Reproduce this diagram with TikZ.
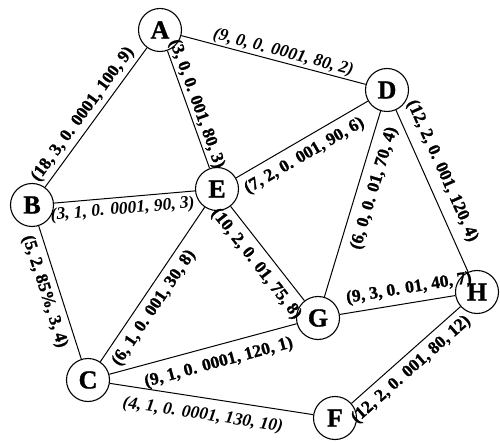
\documentclass[tikz,border=0pt]{standalone}
\usepackage{fontspec}
\setmainfont{Liberation Serif}[BoldFeatures={FakeBold=1.2}]
\begin{document}
\begin{tikzpicture}[x=1pt,y=1pt,
  vtx/.style={circle,draw,line width=1.1pt,minimum size=43pt,inner sep=0pt,fill=white,font=\fontsize{26}{26}\selectfont\bfseries},
  lab/.style={sloped,font=\fontsize{17.5}{17.5}\selectfont\bfseries,inner xsep=1pt},
  up/.style={lab,anchor=south,inner ysep=#1},
  dn/.style={lab,anchor=north,inner ysep=#1},
  it/.style={font=\fontsize{17.5}{17.5}\selectfont\bfseries\itshape},
  edge/.style={line width=1pt}]
\useasboundingbox (0,0) rectangle (500,-443);
\node[vtx] (A) at (160,-30) {A};
\node[vtx] (D) at (387,-90) {D};
\node[vtx] (B) at (32,-205) {B};
\node[vtx] (E) at (217,-189) {E};
\node[vtx] (G) at (318,-318) {G};
\node[vtx] (H) at (477,-292) {H};
\node[vtx] (C) at (88,-380) {C};
\node[vtx] (F) at (335,-418) {F};
\draw[edge] (A) -- (D) node[up=1pt,it,pos=0.54] {(9, 0, 0. 0001, 80, 2)};
\draw[edge] (B) -- (A) node[up=4pt,pos=0.47] {(18, 3, 0. 0001, 100, 9)};
\draw[edge] (A) -- (E) node[up=1pt,pos=0.48] {(3, 0, 0. 001, 80, 3)};
\draw[edge] (B) -- (E) node[dn=4pt,it,pos=0.48] {(3, 1, 0. 0001, 90, 3)};
\draw[edge] (B) -- (C) node[dn=6pt,pos=0.46] {(5, 2, 85\%, 3, 4)};
\draw[edge] (C) -- (E) node[dn=6pt,pos=0.40] {(6, 1, 0. 001, 30, 8)};
\draw[edge] (E) -- (D) node[dn=7pt,pos=0.46] {(7, 2, 0. 001, 90, 6)};
\draw[edge] (E) -- (G) node[dn=7pt,pos=0.51] {(10, 2, 0. 01, 75, 8)};
\draw[edge] (G) -- (D) node[dn=8pt,pos=0.61] {(6, 0, 0. 01, 70, 4)};
\draw[edge] (D) -- (H) node[up=9pt,pos=0.42] {(12, 2, 0. 001, 120, 4)};
\draw[edge] (G) -- (H) node[up=6pt,pos=0.62] {(9, 3, 0. 01, 40, 7)};
\draw[edge] (C) -- (G) node[dn=9pt,pos=0.56] {(9, 1, 0. 0001, 120, 1)};
\draw[edge] (C) -- (F) node[dn=9pt,it,pos=0.47] {(4, 1, 0. 0001, 130, 10)};
\draw[edge] (F) -- (H) node[dn=6pt,pos=0.46] {(12, 2, 0. 001, 80, 12)};
\end{tikzpicture}
\end{document}
